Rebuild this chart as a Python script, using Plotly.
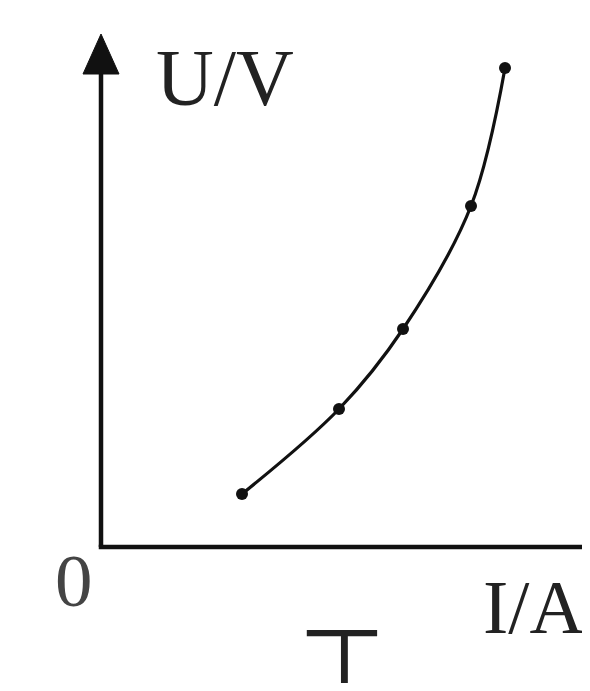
import plotly.graph_objects as go

# Data (arbitrary units; axes carry no ticks)
current_I = [0.141, 0.238, 0.302, 0.370, 0.404]
voltage_U = [0.53, 1.38, 2.18, 3.41, 4.79]

x_label = "I/A"
y_label = "U/V"
origin_label = "0"
figure_tag = "丁"

OFF = 8                  # page body margin
W, H = 590 - OFF, 691 - 2 * OFF   # no vertical overflow -> no scrollbar
X_RANGE = [(OFF - 101) / 1000, (OFF + W - 101) / 1000]
Y_RANGE = [(547 - OFF - H) / 100, (547 - OFF) / 100]
INK = "#111111"


def px(xp, yp):
    """reference pixel -> paper coords"""
    return (xp - OFF) / W, 1 - (yp - OFF) / H


fig = go.Figure()
fig.add_trace(go.Scatter(
    x=current_I, y=voltage_U, mode="lines+markers",
    line=dict(color=INK, width=3.2, shape="spline", smoothing=1.0),
    marker=dict(color=INK, size=12),
    hoverinfo="skip", showlegend=False,
))

y_top = 5.13
x_right = X_RANGE[1]
fig.add_shape(type="line", x0=0, y0=0, x1=0, y1=y_top - 0.3,
              line=dict(color=INK, width=4.5), layer="below")
fig.add_shape(type="line", x0=-0.00225, y0=0, x1=x_right, y1=0,
              line=dict(color=INK, width=4.5), layer="below")
fig.add_shape(type="path",
              path=f"M 0,{y_top} L -0.018,{y_top-0.40} L 0.018,{y_top-0.40} Z",
              fillcolor=INK, line=dict(color=INK, width=1))
fig.add_shape(type="path",
              path="M 0.486,0.21 L 0.486,-0.21 L 0.53,0 Z",
              fillcolor=INK, line=dict(color=INK, width=1))

serif = "Liberation Serif, Times New Roman, serif"
ax, ay = px(154, 32)
fig.add_annotation(x=ax, y=ay, xref="paper", yref="paper",
                   text=y_label, showarrow=False, xanchor="left", yanchor="top",
                   font=dict(family=serif, size=80, color="#222"))
ax, ay = px(481, 563)
fig.add_annotation(x=ax, y=ay, xref="paper", yref="paper",
                   text=x_label, showarrow=False, xanchor="left", yanchor="top",
                   font=dict(family=serif, size=76, color="#222"))
ax, ay = px(53, 537)
fig.add_annotation(x=ax, y=ay, xref="paper", yref="paper",
                   text=origin_label, showarrow=False, xanchor="left", yanchor="top",
                   font=dict(family=serif, size=75, color="#444"))
ax, ay = px(342, 595)
fig.add_annotation(x=ax, y=ay, xref="paper", yref="paper",
                   text=figure_tag, showarrow=False, xanchor="center", yanchor="top",
                   font=dict(family="Noto Sans CJK SC", size=80, color="#222"))

fig.update_layout(
    width=W, height=H, margin=dict(l=0, r=0, t=0, b=0),
    paper_bgcolor="white", plot_bgcolor="white",
    xaxis=dict(range=X_RANGE, visible=False, fixedrange=True),
    yaxis=dict(range=Y_RANGE, visible=False, fixedrange=True),
)
fig.write_html("out.html")
